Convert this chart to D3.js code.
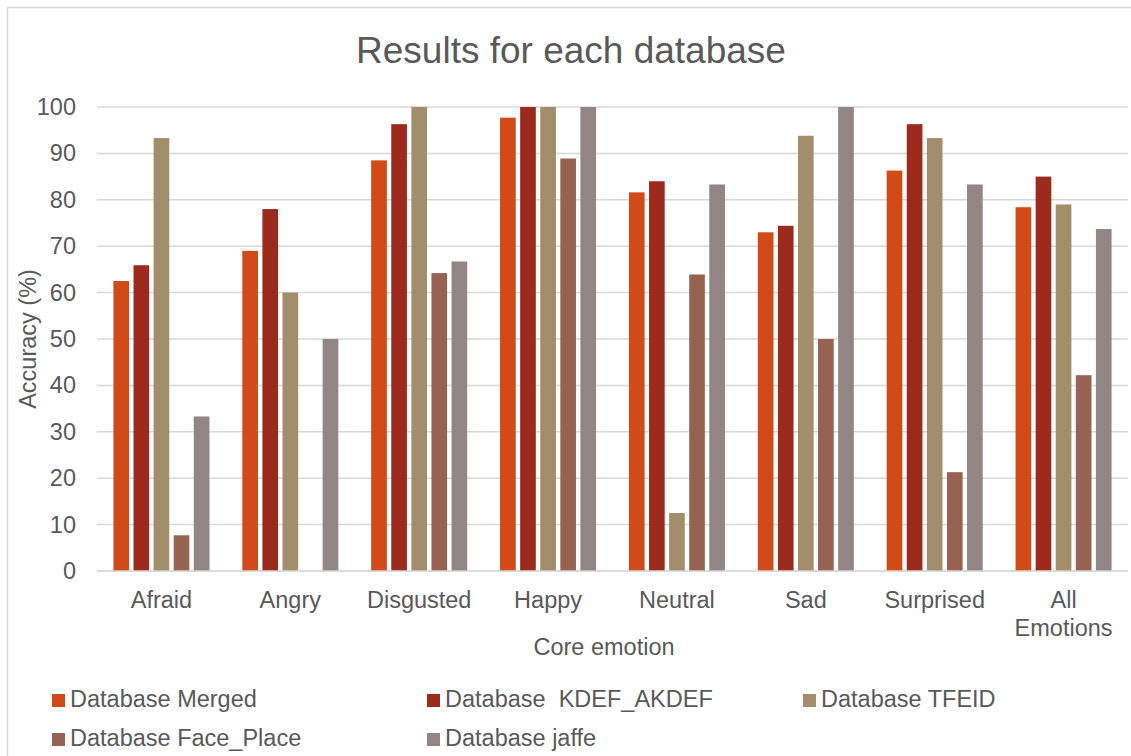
<!DOCTYPE html>
<html>
<head>
<meta charset="utf-8">
<script src="https://cdn.jsdelivr.net/npm/d3@7"></script>
<style>
  html, body { margin: 0; padding: 0; background: #fff; }
  svg { display: block; font-family: "Liberation Sans", Arial, sans-serif; }
</style>
</head>
<body>
<svg id="chart" width="1131" height="756"></svg>
<script>
// Emotion categories along the x axis
const categories = ["Afraid", "Angry", "Disgusted", "Happy", "Neutral", "Sad", "Surprised", "All Emotions"];

// Accuracy (%) per database, one value per category
const merged    = [62.5, 69.0, 88.5, 97.7, 81.6, 73.0, 86.3, 78.4];
const kdef      = [65.9, 78.0, 96.3, 100, 84.0, 74.4, 96.3, 85.0];
const tfeid     = [93.3, 60.0, 100, 100, 12.5, 93.8, 93.3, 79.0];
const facePlace = [7.7, 0, 64.2, 88.9, 63.9, 50.0, 21.3, 42.2];
const jaffe     = [33.3, 50.0, 66.7, 100, 83.3, 100, 83.3, 73.7];

const seriesNames = ["Database Merged", "Database  KDEF_AKDEF", "Database TFEID", "Database Face_Place", "Database jaffe"];
const seriesValues = [merged, kdef, tfeid, facePlace, jaffe];
const seriesColors = ["#D24A18", "#9C2B1E", "#A38E6B", "#966353", "#918585"];

const yTicks = [0, 10, 20, 30, 40, 50, 60, 70, 80, 90, 100];

const svg = d3.select("#chart");
const textColor = "#595959";
const gridColor = "#D9D9D9";
const fontSize = 23.5;

// outer chart frame
svg.append("rect")
  .attr("x", 7.5).attr("y", 7.5)
  .attr("width", 1140).attr("height", 800)
  .attr("fill", "#fff").attr("stroke", gridColor).attr("stroke-width", 1.5);

const plot = { left: 97, right: 1128, top: 107, bottom: 571 };

const y = d3.scaleLinear().domain([0, 100]).range([plot.bottom, plot.top]);
const x0 = d3.scaleBand().domain(categories).range([plot.left, plot.right])
  .paddingInner(0.255).paddingOuter(0.1275);
const x1 = d3.scaleBand().domain(d3.range(seriesNames.length)).range([0, x0.bandwidth()])
  .paddingInner(0.22);

// horizontal gridlines
svg.append("g").selectAll("line").data(yTicks).join("line")
  .attr("x1", plot.left).attr("x2", plot.right)
  .attr("y1", d => y(d)).attr("y2", d => y(d))
  .attr("stroke", gridColor).attr("stroke-width", 1.5);

// y axis tick labels
const yAxis = d3.axisLeft(y).tickValues(yTicks).tickSize(0).tickPadding(0);
const yg = svg.append("g").attr("transform", `translate(${76},0)`).call(yAxis);
yg.select(".domain").remove();
yg.selectAll("text").attr("fill", textColor).attr("font-size", fontSize)
  .attr("font-family", "'Liberation Sans', Arial, sans-serif");

// bars
const rows = categories.map((c, i) => ({ cat: c, vals: seriesValues.map(s => s[i]) }));
const groups = svg.append("g").selectAll("g").data(rows).join("g")
  .attr("transform", d => `translate(${x0(d.cat)},0)`);
groups.selectAll("rect").data(d => d.vals.map((v, k) => ({ v, k }))).join("rect")
  .attr("x", d => x1(d.k))
  .attr("width", x1.bandwidth())
  .attr("y", d => y(d.v))
  .attr("height", d => y(0) - y(d.v))
  .attr("fill", d => seriesColors[d.k]);

// baseline axis
svg.append("line")
  .attr("x1", plot.left).attr("x2", plot.right)
  .attr("y1", y(0)).attr("y2", y(0))
  .attr("stroke", gridColor).attr("stroke-width", 1.5);

// category labels (wrap two-word "All Emotions")
const xg = svg.append("g");
categories.forEach(c => {
  const cx = x0(c) + x0.bandwidth() / 2;
  const words = c === "All Emotions" ? ["All", "Emotions"] : [c];
  const t = xg.append("text").attr("x", cx).attr("y", 608)
    .attr("text-anchor", "middle").attr("fill", textColor).attr("font-size", fontSize);
  words.forEach((w, i) => t.append("tspan").attr("x", cx).attr("dy", i === 0 ? 0 : 28).text(w));
});

// title
svg.append("text").attr("x", 571).attr("y", 63)
  .attr("text-anchor", "middle").attr("fill", textColor).attr("font-size", 37)
  .text("Results for each database");

// axis titles
svg.append("text").attr("x", 604).attr("y", 655)
  .attr("text-anchor", "middle").attr("fill", textColor).attr("font-size", fontSize)
  .text("Core emotion");
svg.append("text")
  .attr("transform", `translate(36,${(plot.top + plot.bottom) / 2}) rotate(-90)`)
  .attr("text-anchor", "middle").attr("fill", textColor).attr("font-size", fontSize)
  .text("Accuracy (%)");

// legend
const legendPos = [
  { x: 52, y: 707 }, { x: 427, y: 707 }, { x: 803, y: 707 },
  { x: 52, y: 746 }, { x: 427, y: 746 }
];
const lg = svg.append("g").selectAll("g").data(seriesNames).join("g")
  .attr("transform", (d, i) => `translate(${legendPos[i].x},${legendPos[i].y})`);
lg.append("rect").attr("x", 0).attr("y", -13).attr("width", 13).attr("height", 13)
  .attr("fill", (d, i) => seriesColors[i]);
lg.append("text").attr("x", 18).attr("y", 0)
  .attr("fill", textColor).attr("font-size", fontSize)
  .attr("xml:space", "preserve").style("white-space", "pre")
  .text(d => d);
</script>
</body>
</html>
